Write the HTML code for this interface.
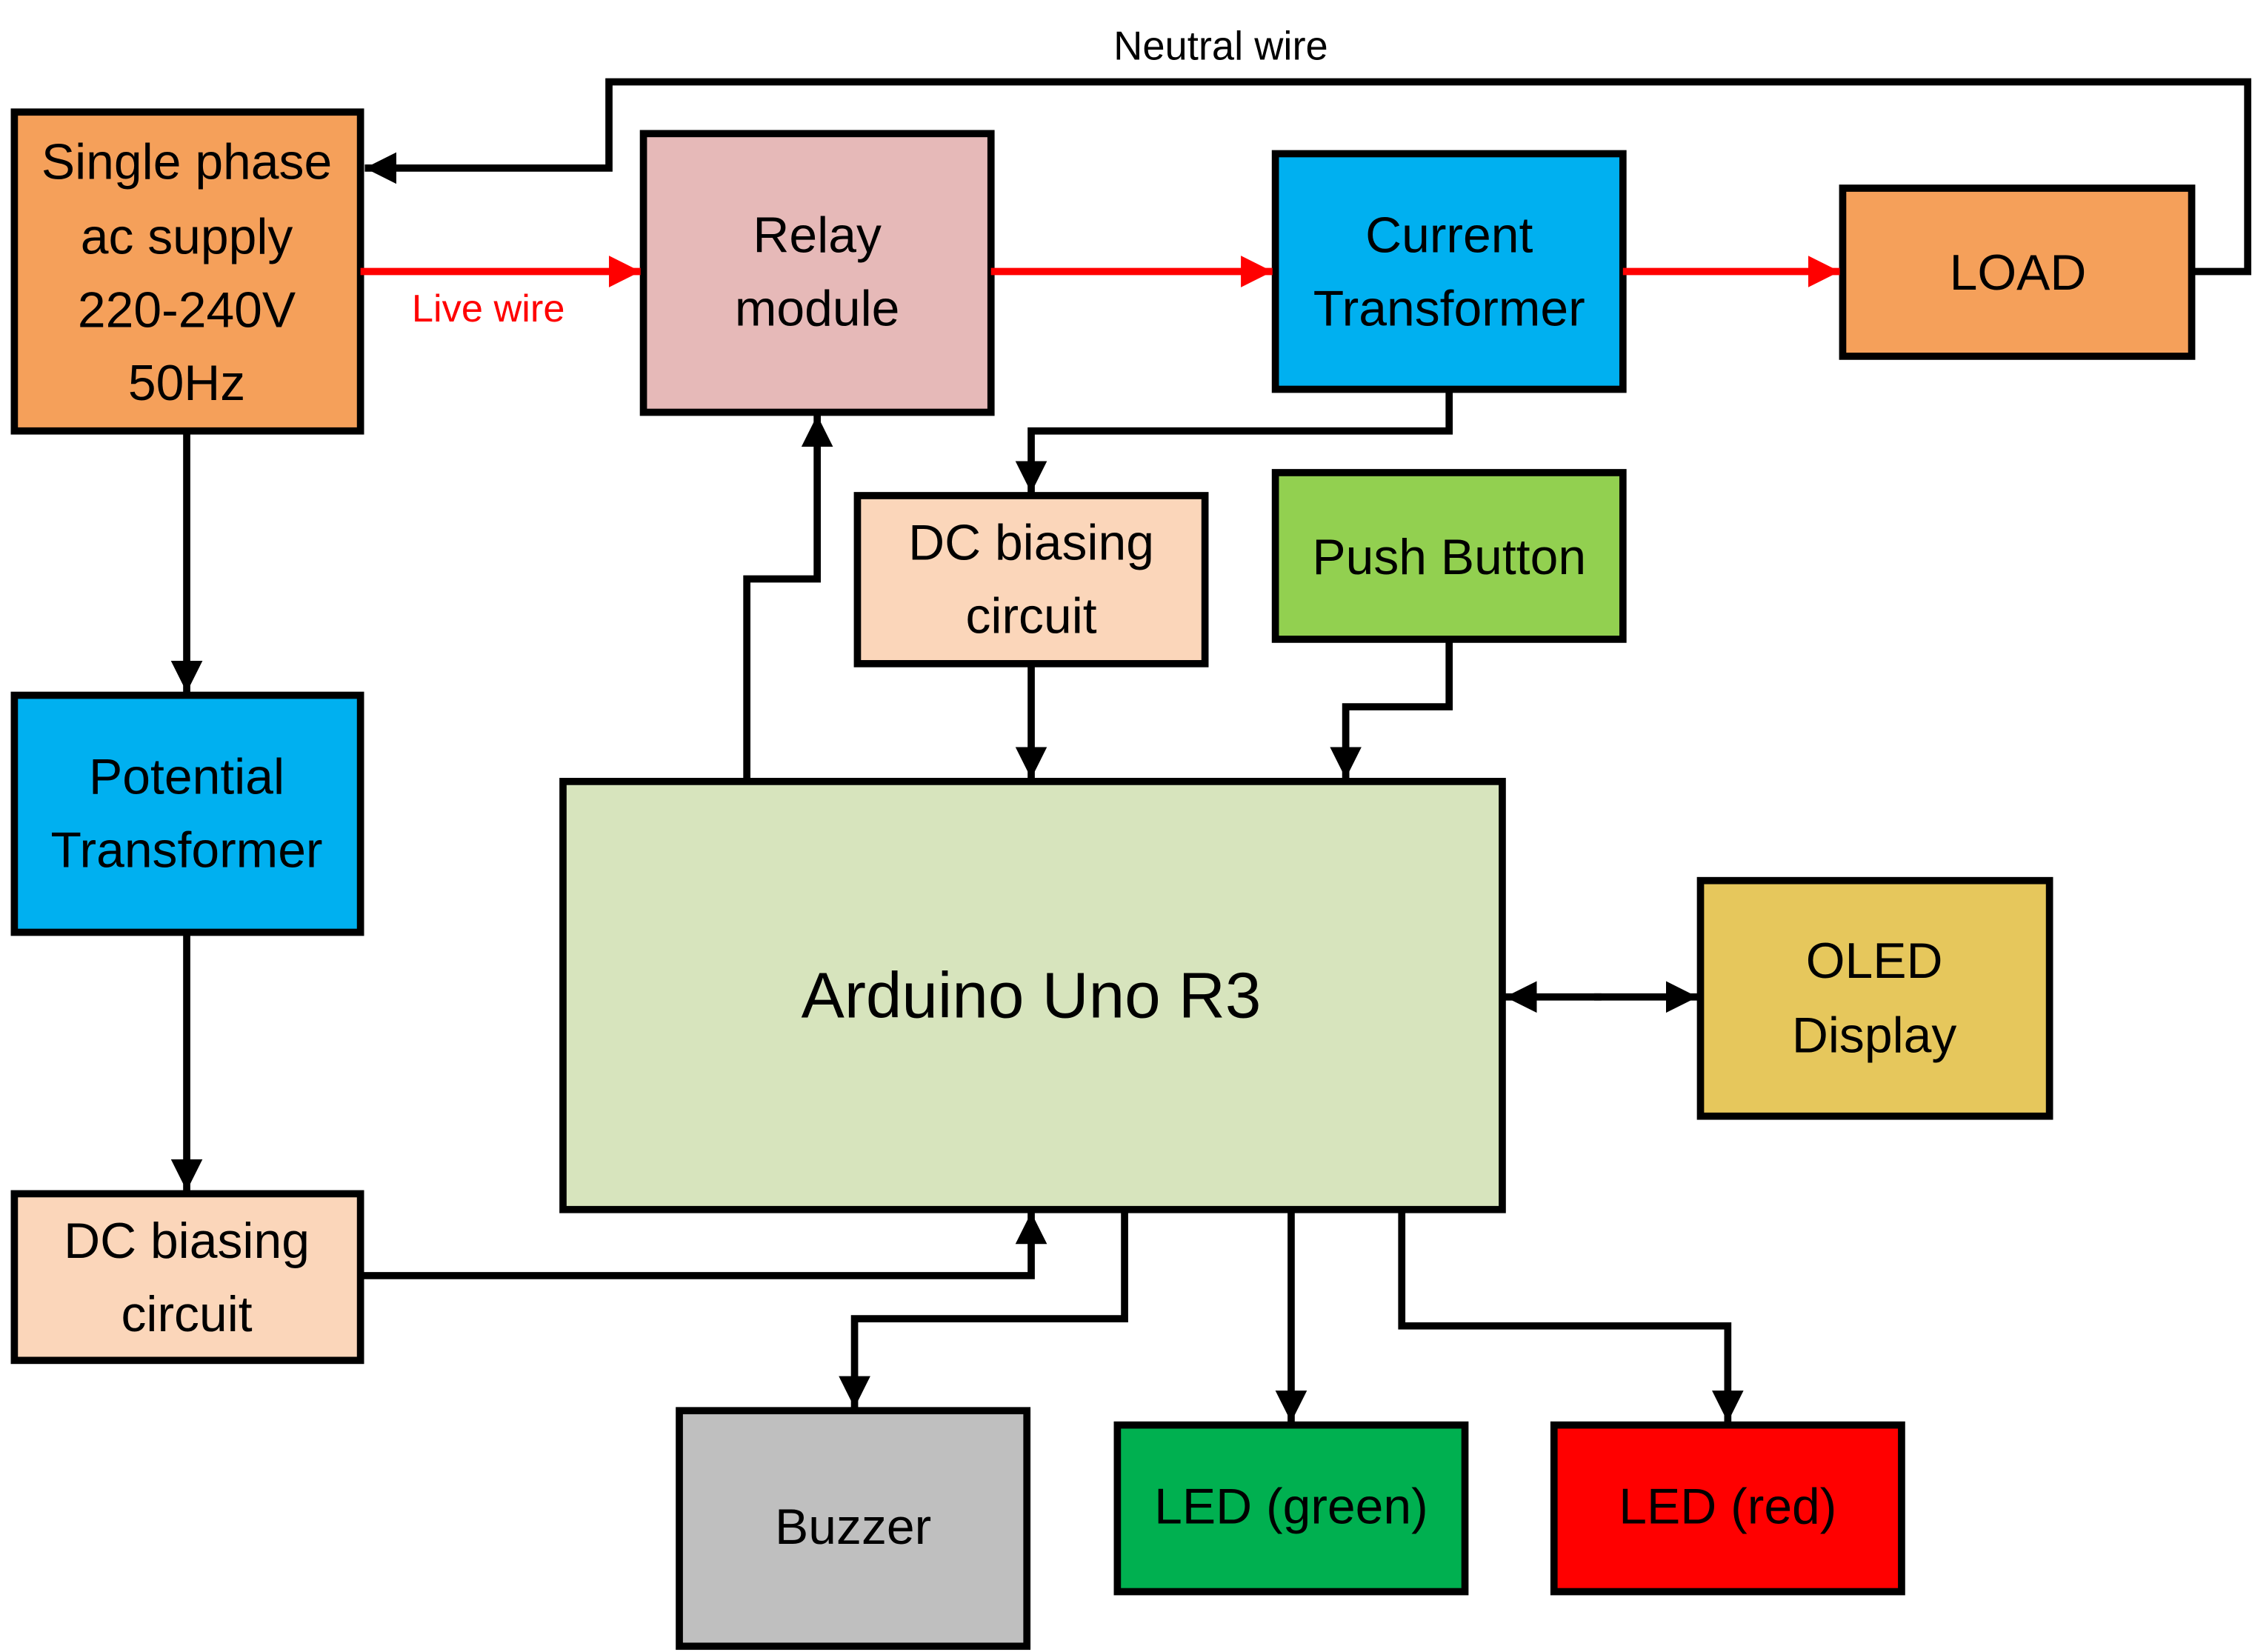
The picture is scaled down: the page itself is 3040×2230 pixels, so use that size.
<!DOCTYPE html>
<html><head><meta charset="utf-8"><style>
html,body{margin:0;padding:0;background:#fff;}
svg{display:block;}
text{font-family:"Liberation Sans",sans-serif;fill:#000;text-anchor:middle;dominant-baseline:central;}
</style></head><body>
<svg width="3040" height="2230" viewBox="0 0 1568 1150" preserveAspectRatio="none" xmlns="http://www.w3.org/2000/svg">
<defs>
<marker id="ab" viewBox="0 0 10 10" refX="10" refY="5" markerWidth="4.4" markerHeight="4.4" orient="auto" markerUnits="strokeWidth"><path d="M0,0 L10,5 L0,10 z" fill="#000"/></marker>
<marker id="ar" viewBox="0 0 10 10" refX="10" refY="5" markerWidth="4.4" markerHeight="4.4" orient="auto" markerUnits="strokeWidth"><path d="M0,0 L10,5 L0,10 z" fill="#f00"/></marker>
</defs>
<g stroke="#000" stroke-width="5">
<rect x="10" y="78" width="241" height="222" fill="#F5A05A"/>
<rect x="448" y="93" width="242" height="194" fill="#E6B9B8"/>
<rect x="888" y="107" width="242" height="164" fill="#00B0F0"/>
<rect x="1283" y="131" width="243" height="117" fill="#F5A05A"/>
<rect x="10" y="484" width="241" height="165" fill="#00B0F0"/>
<rect x="10" y="831" width="241" height="116" fill="#FBD6BA"/>
<rect x="597" y="345" width="242" height="117" fill="#FBD6BA"/>
<rect x="888" y="329" width="242" height="116" fill="#92D050"/>
<rect x="392" y="544" width="654" height="298" fill="#D7E4BD"/>
<rect x="1184" y="613" width="243" height="164" fill="#E6C75C"/>
<rect x="473" y="982" width="242" height="164" fill="#BFBFBF"/>
<rect x="778" y="992" width="242" height="116" fill="#00B050"/>
<rect x="1082" y="992" width="242" height="116" fill="#FF0000"/>
</g>
<g stroke="#000" stroke-width="5" fill="none">
<polyline points="1526,189 1565,189 1565,57 424,57 424,117 254,117" marker-end="url(#ab)"/>
<line x1="130" y1="300" x2="130" y2="482" marker-end="url(#ab)"/>
<line x1="130" y1="649" x2="130" y2="829" marker-end="url(#ab)"/>
<polyline points="251,888 718,888 718,844" marker-end="url(#ab)"/>
<polyline points="520,544 520,403 569,403 569,289" marker-end="url(#ab)"/>
<polyline points="1009,271 1009,300 718,300 718,343" marker-end="url(#ab)"/>
<line x1="718" y1="462" x2="718" y2="542" marker-end="url(#ab)"/>
<polyline points="1009,445 1009,492 937,492 937,542" marker-end="url(#ab)"/>
<line x1="1115" y1="694" x2="1048" y2="694" marker-end="url(#ab)"/>
<line x1="1110" y1="694" x2="1182" y2="694" marker-end="url(#ab)"/>
<polyline points="783,842 783,918 595,918 595,980" marker-end="url(#ab)"/>
<line x1="899" y1="842" x2="899" y2="990" marker-end="url(#ab)"/>
<polyline points="976,842 976,923 1203,923 1203,990" marker-end="url(#ab)"/>
</g>
<g stroke="#f00" stroke-width="5" fill="none">
<line x1="251" y1="189" x2="446" y2="189" marker-end="url(#ar)"/>
<line x1="690" y1="189" x2="886" y2="189" marker-end="url(#ar)"/>
<line x1="1130" y1="189" x2="1281" y2="189" marker-end="url(#ar)"/>
</g>
<g font-size="35">
<text x="130" y="113">Single phase</text>
<text x="130" y="165">ac supply</text>
<text x="130" y="216">220-240V</text>
<text x="130" y="267">50Hz</text>
<text x="569" y="164">Relay</text>
<text x="569" y="215">module</text>
<text x="1009" y="164">Current</text>
<text x="1009" y="215">Transformer</text>
<text x="1405" y="190">LOAD</text>
<text x="130" y="541">Potential</text>
<text x="130" y="592">Transformer</text>
<text x="130" y="864">DC biasing</text>
<text x="130" y="915">circuit</text>
<text x="718" y="378">DC biasing</text>
<text x="718" y="429">circuit</text>
<text x="1009" y="388">Push Button</text>
<text x="1305" y="669">OLED</text>
<text x="1305" y="721">Display</text>
<text x="594" y="1063">Buzzer</text>
<text x="899" y="1049">LED (green)</text>
<text x="1203" y="1049">LED (red)</text>
</g>
<text x="718" y="693" font-size="45">Arduino Uno R3</text>
<text x="850" y="32" font-size="28">Neutral wire</text>
<text x="340" y="215" font-size="27" style="fill:#f00">Live wire</text>
</svg>
</body></html>
